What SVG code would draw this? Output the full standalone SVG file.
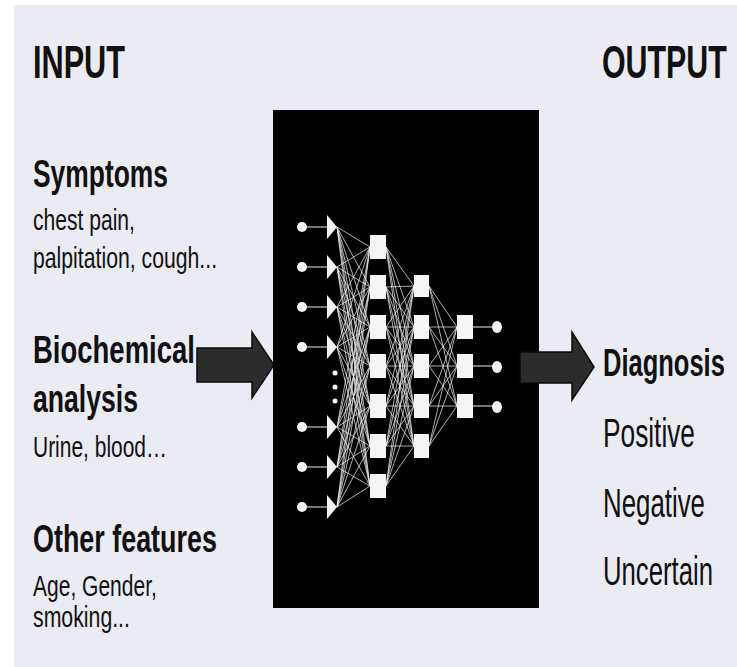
<svg xmlns="http://www.w3.org/2000/svg" width="737" height="667" viewBox="0 0 737 667">
<style>
.bg{fill:#ebebf3}
.h{font-family:"Liberation Sans",Arial,sans-serif;font-weight:bold;fill:#111}
.t{font-family:"Liberation Sans",Arial,sans-serif;fill:#111}
.arrow{fill:#2c2c2c;stroke:#0a0a0a;stroke-width:1.5;stroke-linejoin:miter}
.w{stroke:#f0f0f0;stroke-width:0.9;fill:none;opacity:0.8}
.ws{stroke:#eeeeee;stroke-width:1.2;fill:none}
.n{fill:#f4f4f4}
</style>
<rect x="0" y="0" width="737" height="667" fill="#ffffff"/>
<rect class="bg" x="14" y="5" width="723" height="662"/>

<g id="labels-input">
<text class="h" transform="translate(33 78) scale(0.667 1)" font-size="46">INPUT</text>
</g>
<g id="labels-output">
<text class="h" transform="translate(602 78) scale(0.66 1)" font-size="46">OUTPUT</text>
</g>

<g id="symptoms">
<text class="h" transform="translate(33 187) scale(0.677 1)" font-size="39">Symptoms</text>
<text class="t" transform="translate(33 230) scale(0.727 1)" font-size="29">chest pain,</text>
<text class="t" transform="translate(33 268) scale(0.732 1)" font-size="29">palpitation, cough...</text>
</g>
<g id="biochemical">
<text class="h" transform="translate(33 363) scale(0.705 1)" font-size="39">Biochemical</text>
<text class="h" transform="translate(33 412) scale(0.682 1)" font-size="39">analysis</text>
<text class="t" transform="translate(33 457) scale(0.723 1)" font-size="29">Urine, blood…</text>
</g>
<g id="other-features">
<text class="h" transform="translate(33 552) scale(0.69 1)" font-size="39">Other features</text>
<text class="t" transform="translate(33 596) scale(0.725 1)" font-size="29">Age, Gender,</text>
<text class="t" transform="translate(33 627) scale(0.734 1)" font-size="29">smoking...</text>
</g>
<g id="diagnosis">
<text class="h" transform="translate(603 376) scale(0.654 1)" font-size="39">Diagnosis</text>
<text class="t" transform="translate(603 447) scale(0.657 1)" font-size="40">Positive</text>
<text class="t" transform="translate(603 517) scale(0.646 1)" font-size="40">Negative</text>
<text class="t" transform="translate(603 585) scale(0.643 1)" font-size="40">Uncertain</text>
</g>

<g id="arrow-in">
<polygon class="arrow" points="197,348 252,348 252,332 274,365 252,398 252,382 197,382"/>
</g>

<g id="network-box">
<rect x="273" y="110" width="266" height="498" fill="#000"/>
</g>

<g id="arrow-out">
<polygon class="arrow" points="520,352 572,352 572,332 594,367 572,400 572,383 520,383"/>
</g>

<g id="connectors">
<path class="ws" d="M302 227H330M302 267H330M302 307H330M302 347H330M302 427H330M302 467H330M302 507H330"/>
<path class="w" d="M337 227L370 247M337 227L370 287M337 227L370 327M337 227L370 366M337 227L370 406M337 227L370 446M337 227L370 486"/>
<path class="w" d="M337 267L370 247M337 267L370 287M337 267L370 327M337 267L370 366M337 267L370 406M337 267L370 446M337 267L370 486"/>
<path class="w" d="M337 307L370 247M337 307L370 287M337 307L370 327M337 307L370 366M337 307L370 406M337 307L370 446M337 307L370 486"/>
<path class="w" d="M337 347L370 247M337 347L370 287M337 347L370 327M337 347L370 366M337 347L370 406M337 347L370 446M337 347L370 486"/>
<path class="w" d="M337 427L370 247M337 427L370 287M337 427L370 327M337 427L370 366M337 427L370 406M337 427L370 446M337 427L370 486"/>
<path class="w" d="M337 467L370 247M337 467L370 287M337 467L370 327M337 467L370 366M337 467L370 406M337 467L370 446M337 467L370 486"/>
<path class="w" d="M337 507L370 247M337 507L370 287M337 507L370 327M337 507L370 366M337 507L370 406M337 507L370 446M337 507L370 486"/>
<path class="w" d="M386 247L414 286M386 247L414 327M386 247L414 366M386 247L414 406M386 247L414 446"/>
<path class="w" d="M386 287L414 286M386 287L414 327M386 287L414 366M386 287L414 406M386 287L414 446"/>
<path class="w" d="M386 327L414 286M386 327L414 327M386 327L414 366M386 327L414 406M386 327L414 446"/>
<path class="w" d="M386 366L414 286M386 366L414 327M386 366L414 366M386 366L414 406M386 366L414 446"/>
<path class="w" d="M386 406L414 286M386 406L414 327M386 406L414 366M386 406L414 406M386 406L414 446"/>
<path class="w" d="M386 446L414 286M386 446L414 327M386 446L414 366M386 446L414 406M386 446L414 446"/>
<path class="w" d="M386 486L414 286M386 486L414 327M386 486L414 366M386 486L414 406M386 486L414 446"/>
<path class="w" d="M429 286L457 327M429 286L457 366M429 286L457 406M429 327L457 327M429 327L457 366M429 327L457 406M429 366L457 327M429 366L457 366M429 366L457 406M429 406L457 327M429 406L457 366M429 406L457 406M429 446L457 327M429 446L457 366M429 446L457 406"/>
<path class="ws" d="M473 327H497M473 366H497M473 406H497"/>
</g>

<g id="input-nodes">
<circle class="n" cx="302" cy="227" r="5"/>
<circle class="n" cx="302" cy="267" r="5"/>
<circle class="n" cx="302" cy="307" r="5"/>
<circle class="n" cx="302" cy="347" r="5"/>
<circle class="n" cx="335" cy="373" r="2.5"/>
<circle class="n" cx="335" cy="387" r="2.5"/>
<circle class="n" cx="335" cy="401" r="2.5"/>
<circle class="n" cx="302" cy="427" r="5"/>
<circle class="n" cx="302" cy="467" r="5"/>
<circle class="n" cx="302" cy="507" r="5"/>
</g>
<g id="input-triangles">
<polygon class="n" points="327,215 337,227 327,239"/>
<polygon class="n" points="327,255 337,267 327,279"/>
<polygon class="n" points="327,295 337,307 327,319"/>
<polygon class="n" points="327,335 337,347 327,359"/>
<polygon class="n" points="327,415 337,427 327,439"/>
<polygon class="n" points="327,455 337,467 327,479"/>
<polygon class="n" points="327,495 337,507 327,519"/>
</g>
<g id="hidden-layer-1">
<rect class="n" x="370" y="235" width="16" height="24"/>
<rect class="n" x="370" y="275" width="16" height="24"/>
<rect class="n" x="370" y="315" width="16" height="24"/>
<rect class="n" x="370" y="354" width="16" height="24"/>
<rect class="n" x="370" y="394" width="16" height="24"/>
<rect class="n" x="370" y="434" width="16" height="24"/>
<rect class="n" x="370" y="474" width="16" height="24"/>
</g>
<g id="hidden-layer-2">
<rect class="n" x="414" y="275" width="15" height="22"/>
<rect class="n" x="414" y="315" width="15" height="24"/>
<rect class="n" x="414" y="354" width="15" height="24"/>
<rect class="n" x="414" y="394" width="15" height="24"/>
<rect class="n" x="414" y="434" width="15" height="24"/>
</g>
<g id="hidden-layer-3">
<rect class="n" x="457" y="315" width="16" height="24"/>
<rect class="n" x="457" y="354" width="16" height="24"/>
<rect class="n" x="457" y="394" width="16" height="24"/>
</g>
<g id="output-nodes">
<ellipse class="n" cx="497" cy="327" rx="5" ry="6"/>
<ellipse class="n" cx="497" cy="367" rx="5" ry="6"/>
<ellipse class="n" cx="497" cy="407" rx="5" ry="6"/>
</g>
</svg>
